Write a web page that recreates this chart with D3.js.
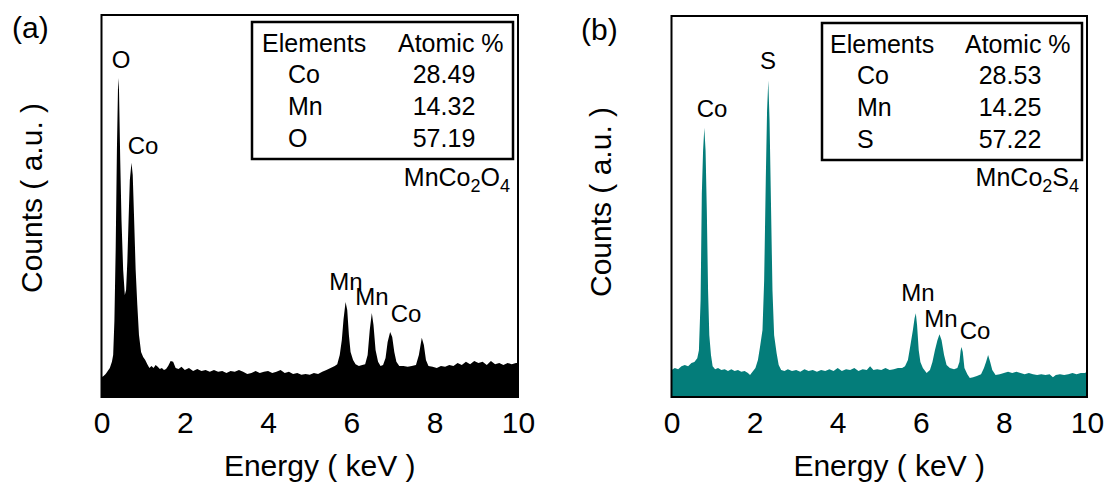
<!DOCTYPE html>
<html>
<head>
<meta charset="utf-8">
<title>EDS spectra</title>
<script src="https://cdn.jsdelivr.net/npm/d3@7"></script>
<style>
  body { margin: 0; background: #fff; }
  text { font-family: "Liberation Sans", Arial, sans-serif; fill: #000; }
</style>
</head>
<body>
<script>
// ---- data ----
var energyTicks = [0, 2, 4, 6, 8, 10];

// (a) MnCo2O4 spectrum: energy (keV) and counts (a.u.)
var energyA = [0.00, 0.05, 0.10, 0.15, 0.20, 0.25, 0.28, 0.31, 0.34, 0.37, 0.40, 0.42, 0.45, 0.48, 0.52, 0.56, 0.59, 0.62, 0.65, 0.68,
  0.72, 0.75, 0.78, 0.82, 0.86, 0.90, 0.95, 1.00, 1.05, 1.10, 1.15, 1.20, 1.25, 1.30, 1.35, 1.40, 1.45, 1.50, 1.55, 1.60,
  1.66, 1.72, 1.78, 1.85, 1.92, 2.00, 2.10, 2.20, 2.30, 2.40, 2.50, 2.60, 2.70, 2.80, 2.90, 3.00, 3.10, 3.20, 3.30, 3.40,
  3.50, 3.60, 3.70, 3.80, 3.90, 4.00, 4.10, 4.20, 4.30, 4.40, 4.50, 4.60, 4.70, 4.80, 4.90, 5.00, 5.10, 5.20, 5.30, 5.40,
  5.50, 5.60, 5.66, 5.72, 5.77, 5.81, 5.86, 5.90, 5.94, 5.98, 6.04, 6.10, 6.18, 6.26, 6.33, 6.39, 6.44, 6.49, 6.53, 6.58,
  6.64, 6.70, 6.76, 6.82, 6.87, 6.93, 6.98, 7.03, 7.08, 7.15, 7.25, 7.35, 7.45, 7.55, 7.62, 7.69, 7.74, 7.79, 7.85, 7.95,
  8.05, 8.15, 8.25, 8.35, 8.45, 8.55, 8.65, 8.75, 8.85, 8.95, 9.05, 9.15, 9.25, 9.35, 9.45, 9.55, 9.65, 9.75, 9.85, 9.95, 10.00];
var countsA = [52, 55, 60, 68, 76, 92, 110, 200, 385, 647, 835, 805, 620, 464, 333, 267, 280, 354, 464, 568,
  613, 581, 477, 333, 241, 162, 118, 105, 97, 86, 76, 81, 76, 84, 79, 73, 76, 71, 73, 81,
  94, 92, 76, 73, 79, 71, 76, 68, 73, 68, 71, 66, 71, 66, 68, 63, 68, 66, 71, 66,
  60, 63, 68, 63, 66, 68, 63, 66, 71, 63, 66, 60, 63, 58, 60, 58, 63, 60, 66, 71,
  76, 81, 86, 110, 149, 202, 249, 228, 162, 118, 97, 86, 81, 84, 86, 110, 175, 220, 189, 123,
  92, 81, 84, 102, 144, 170, 157, 118, 92, 81, 81, 79, 81, 84, 110, 155, 136, 97, 81, 79,
  76, 81, 79, 84, 81, 89, 84, 92, 86, 94, 89, 92, 84, 94, 86, 89, 84, 89, 86, 89, 89];

// (b) MnCo2S4 spectrum
var energyB = [0.00, 0.08, 0.16, 0.24, 0.32, 0.40, 0.48, 0.55, 0.62, 0.66, 0.70, 0.73, 0.76, 0.79, 0.82, 0.85, 0.88, 0.91, 0.95, 0.99,
  1.05, 1.12, 1.20, 1.28, 1.36, 1.44, 1.52, 1.60, 1.68, 1.76, 1.84, 1.89, 1.95, 2.02, 2.08, 2.13, 2.19, 2.23, 2.27, 2.30,
  2.33, 2.36, 2.39, 2.43, 2.47, 2.53, 2.58, 2.64, 2.72, 2.80, 2.90, 3.00, 3.10, 3.20, 3.30, 3.40, 3.50, 3.60, 3.70, 3.80,
  3.90, 4.00, 4.10, 4.20, 4.30, 4.40, 4.50, 4.60, 4.70, 4.78, 4.86, 4.95, 5.05, 5.15, 5.25, 5.35, 5.45, 5.55, 5.62, 5.69,
  5.75, 5.81, 5.85, 5.88, 5.91, 5.95, 5.99, 6.05, 6.14, 6.22, 6.28, 6.34, 6.40, 6.45, 6.50, 6.56, 6.62, 6.70, 6.80, 6.88,
  6.93, 6.96, 6.98, 7.01, 7.05, 7.12, 7.18, 7.26, 7.35, 7.45, 7.52, 7.57, 7.62, 7.67, 7.72, 7.80, 7.90, 8.00, 8.10, 8.20,
  8.30, 8.40, 8.50, 8.60, 8.70, 8.80, 8.90, 9.00, 9.10, 9.18, 9.25, 9.35, 9.45, 9.55, 9.65, 9.75, 9.85, 9.95, 10.00];
var countsB = [71, 76, 73, 81, 84, 81, 89, 92, 102, 123, 254, 534, 647, 707, 647, 490, 280, 162, 110, 81,
  73, 76, 71, 73, 68, 73, 68, 71, 66, 68, 63, 58, 66, 76, 97, 131, 176, 306, 576, 752,
  831, 726, 534, 280, 162, 115, 84, 71, 68, 73, 68, 71, 66, 73, 68, 71, 66, 71, 68, 73,
  68, 76, 68, 73, 71, 76, 68, 73, 71, 81, 71, 73, 71, 76, 71, 73, 76, 76, 81, 97,
  136, 176, 207, 220, 189, 123, 92, 76, 63, 71, 92, 123, 149, 165, 149, 110, 84, 76, 73, 76,
  92, 123, 131, 118, 76, 60, 50, 52, 55, 60, 76, 92, 110, 92, 71, 58, 60, 63, 66, 63,
  66, 63, 60, 63, 60, 58, 60, 58, 60, 52, 58, 60, 58, 60, 63, 60, 63, 63, 66];

// peak labels
var peaksA = ["O", "Co", "Mn", "Mn", "Co"];
var peaksB = ["Co", "S", "Mn", "Mn", "Co"];

// inset tables
var tableHead = ["Elements", "Atomic %"];
var elementsA = ["Co", "Mn", "O"];
var atomicA = ["28.49", "14.32", "57.19"];
var elementsB = ["Co", "Mn", "S"];
var atomicB = ["28.53", "14.25", "57.22"];

// ---- drawing ----
var svg = d3.select("body").append("svg")
  .attr("width", 1108)
  .attr("height", 485);

function drawPanel(p) {
  var x = d3.scaleLinear().domain([0, 10]).range([p.left, p.right]);
  var y = d3.scaleLinear().domain([0, 1000]).range([p.bottom, p.top]);
  var g = svg.append("g");

  g.append("clipPath").attr("id", p.id + "clip")
    .append("rect")
    .attr("x", p.left).attr("y", p.top)
    .attr("width", p.right - p.left).attr("height", p.bottom - p.top);

  var pts = p.energy.map(function(e, i) { return [e, p.counts[i]]; });
  var area = d3.area()
    .x(function(d) { return x(d[0]); })
    .y0(y(0))
    .y1(function(d) { return y(d[1]); });

  g.append("path")
    .datum(pts)
    .attr("clip-path", "url(#" + p.id + "clip)")
    .attr("d", area)
    .attr("fill", p.color);

  // frame
  g.append("rect")
    .attr("x", p.left).attr("y", p.top)
    .attr("width", p.right - p.left).attr("height", p.bottom - p.top)
    .attr("fill", "none").attr("stroke", "#000").attr("stroke-width", 2);

  // x axis labels only (no tick marks)
  var ax = g.append("g")
    .attr("transform", "translate(0," + p.bottom + ")")
    .call(d3.axisBottom(x).tickValues(energyTicks).tickSize(0).tickPadding(15));
  ax.select(".domain").remove();
  ax.selectAll("text")
    .attr("font-size", 30)
    .attr("font-family", "Liberation Sans, Arial, sans-serif")
    .attr("fill", "#000");

  g.append("text")
    .attr("x", (p.left + p.right) / 2 + 10)
    .attr("y", 476)
    .attr("text-anchor", "middle")
    .attr("font-size", 30)
    .text("Energy ( keV )");

  g.append("text")
    .attr("transform", "translate(" + p.ylabX + "," + p.ylabY + ") rotate(-90)")
    .attr("text-anchor", "middle")
    .attr("font-size", 30)
    .text("Counts ( a.u. )");

  g.append("text")
    .attr("x", p.tagX).attr("y", p.tagY)
    .attr("font-size", 30)
    .text(p.tag);

  // peak labels
  g.selectAll(".peak")
    .data(p.peaks)
    .enter().append("text")
    .attr("class", "peak")
    .attr("x", function(d, i) { return p.peakPos[i][0]; })
    .attr("y", function(d, i) { return p.peakPos[i][1]; })
    .attr("text-anchor", "middle")
    .attr("font-size", 24)
    .text(function(d) { return d; });

  // inset table
  var t = p.table;
  g.append("rect")
    .attr("x", t.x).attr("y", t.y).attr("width", t.w).attr("height", t.h)
    .attr("fill", "#fff").attr("stroke", "#000").attr("stroke-width", 2.5);
  var rows = [52, 83, 115, 147];
  g.append("text").attr("x", t.c1).attr("y", rows[0] + t.dy).attr("font-size", 25).text(tableHead[0]);
  g.append("text").attr("x", t.c2).attr("y", rows[0] + t.dy).attr("font-size", 25).text(tableHead[1]);
  p.elements.forEach(function(el, i) {
    g.append("text").attr("x", t.c3).attr("y", rows[i + 1] + t.dy).attr("font-size", 25).text(el);
    g.append("text").attr("x", t.c4).attr("y", rows[i + 1] + t.dy)
      .attr("text-anchor", "middle").attr("font-size", 25).text(p.atomic[i]);
  });

  // compound label with subscripts
  var f = g.append("text")
    .attr("x", p.right - 8).attr("y", 186)
    .attr("text-anchor", "end")
    .attr("font-size", 25);
  p.formula.forEach(function(s) {
    var ts = f.append("tspan").text(s[0]);
    if (s[1]) ts.attr("font-size", 18).attr("dy", 6);
    else ts.attr("dy", s[2] || 0);
  });
}

drawPanel({
  id: "a", left: 101.5, right: 518, top: 15, bottom: 397, color: "#000",
  energy: energyA, counts: countsA,
  ylabX: 42, ylabY: 198, tag: "(a)", tagX: 12, tagY: 38,
  peaks: peaksA,
  peakPos: [[121, 68], [143, 154], [346, 290], [372, 305], [406, 322]],
  table: { x: 252, y: 22, w: 261, h: 137, c1: 262, c2: 398, c3: 288, c4: 444, dy: 0 },
  elements: elementsA, atomic: atomicA,
  formula: [["MnCo", false], ["2", true], ["O", false, -6], ["4", true]]
});

drawPanel({
  id: "b", left: 671.5, right: 1087, top: 16, bottom: 397, color: "#047d7a",
  energy: energyB, counts: countsB,
  ylabX: 611, ylabY: 202, tag: "(b)", tagX: 581, tagY: 40,
  peaks: peaksB,
  peakPos: [[712, 117], [768, 69], [918, 301], [941, 327], [975, 339]],
  table: { x: 822, y: 23, w: 260, h: 137, c1: 830, c2: 965, c3: 857, c4: 1010, dy: 1 },
  elements: elementsB, atomic: atomicB,
  formula: [["MnCo", false], ["2", true], ["S", false, -6], ["4", true]]
});
</script>
</body>
</html>
